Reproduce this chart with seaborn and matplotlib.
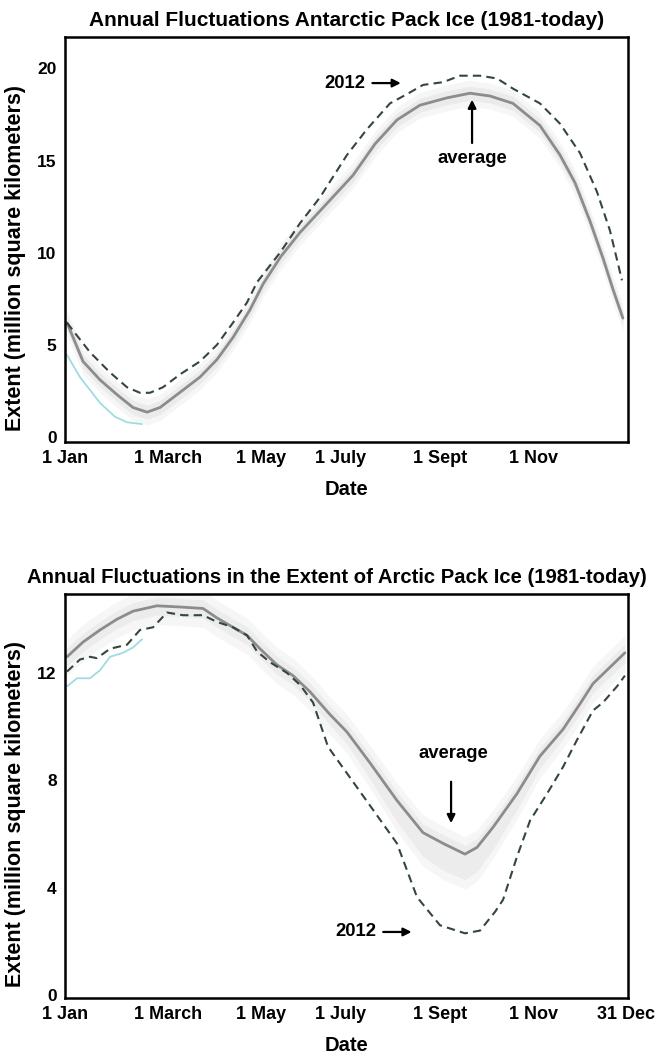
import numpy as np
import pandas as pd
import matplotlib
matplotlib.use("Agg")
import matplotlib.pyplot as plt
import seaborn as sns

# ---------------- data (day of year, million km^2) ----------------
ant_avg_day = [1.3, 11.7, 22.7, 33.7, 44.1, 53.2, 61.6, 72.6, 87.5, 98.5, 108.9, 119.9,
               128.4, 140.0, 152.4, 171.8, 186.7, 201.0, 215.2, 230.1, 247.7, 262.6, 275.5,
               290.4, 307.9, 320.9, 330.6, 340.4, 348.8, 355.3, 361.7]
ant_avg_val = [6.2, 4.1, 3.1, 2.3, 1.6, 1.35, 1.6, 2.3, 3.25, 4.2, 5.4, 6.9,
               8.3, 9.8, 11.1, 12.85, 14.2, 15.9, 17.2, 18.0, 18.4, 18.65, 18.5,
               18.1, 16.9, 15.3, 13.8, 11.7, 9.7, 8.0, 6.45]

ant_2012_day = [1.3, 7.8, 16.2, 29.2, 40.2, 48.6, 55.1, 63.5, 74.6, 87.5, 98.5, 108.9,
                118.0, 124.5, 139.4, 152.4, 165.3, 182.8, 195.8, 210.7, 221.7, 232.1,
                245.1, 256.1, 269.0, 280.1, 290.4, 307.9, 320.9, 333.9, 344.9, 353.3, 361.1]
ant_2012_val = [6.2, 5.5, 4.6, 3.5, 2.7, 2.4, 2.4, 2.7, 3.4, 4.1, 5.0, 6.2,
                7.3, 8.4, 10.0, 11.6, 13.0, 15.3, 16.7, 18.1, 18.6, 19.1,
                19.25, 19.6, 19.6, 19.45, 18.9, 18.1, 17.0, 15.4, 13.3, 11.2, 8.5]

ant_now_day = [1.3, 9.7, 22.7, 32.4, 40.2, 49.9]
ant_now_val = [4.45, 3.25, 1.85, 1.1, 0.8, 0.7]

arc_avg_day = [1.3, 11.7, 22.7, 33.7, 44.1, 59.6, 76.5, 89.5, 98.5, 108.9, 118.0, 126.4,
               137.4, 147.8, 158.8, 171.8, 182.8, 197.7, 215.2, 232.1, 245.1, 259.3,
               267.1, 277.5, 293.0, 307.9, 322.9, 333.9, 342.3, 363.0]
arc_avg_val = [12.6, 13.15, 13.6, 14.0, 14.3, 14.5, 14.45, 14.4, 14.05, 13.7, 13.4, 12.9,
               12.3, 11.9, 11.3, 10.45, 9.8, 8.65, 7.25, 6.05, 5.65, 5.25,
               5.5, 6.25, 7.5, 8.9, 9.9, 10.85, 11.6, 12.75]
arc_spread_low = [0.35, 0.35, 0.35, 0.35, 0.35, 0.35, 0.35, 0.35, 0.35, 0.35, 0.35, 0.35,
                  0.35, 0.35, 0.35, 0.4, 0.45, 0.6, 0.8, 0.9, 1.0, 0.95,
                  0.9, 0.8, 0.6, 0.45, 0.35, 0.35, 0.35, 0.35]

arc_2012_day = [1.3, 9.7, 16.2, 20.7, 29.2, 40.2, 48.6, 57.1, 66.1, 76.5, 89.5, 98.5,
                108.9, 118.0, 124.5, 132.9, 143.9, 152.4, 160.8, 170.5, 184.8, 199.7,
                215.2, 228.2, 243.1, 259.3, 269.0, 278.8, 284.0, 293.0, 301.5, 312.5,
                322.9, 331.9, 342.3, 348.8, 357.9, 363.0]
arc_2012_val = [12.05, 12.5, 12.6, 12.55, 12.9, 13.05, 13.6, 13.7, 14.25, 14.15, 14.15, 13.9,
                13.7, 13.4, 12.8, 12.4, 12.0, 11.55, 10.9, 9.25, 8.1, 6.9,
                5.65, 3.65, 2.6, 2.3, 2.4, 3.1, 3.55, 5.15, 6.5, 7.5,
                8.5, 9.5, 10.6, 10.9, 11.5, 11.9]

arc_now_day = [1.3, 7.8, 16.2, 22.7, 29.2, 37.6, 44.1, 49.9]
arc_now_val = [11.5, 11.8, 11.8, 12.1, 12.6, 12.75, 12.95, 13.25]

top_tick_days = [0, 67, 127, 178.5, 243, 304]
top_tick_labels = ["1 Jan", "1 March", "1 May", "1 July", "1 Sept", "1 Nov"]
bot_tick_days = [0, 67, 127, 178.5, 243, 304, 364]
bot_tick_labels = ["1 Jan", "1 March", "1 May", "1 July", "1 Sept", "1 Nov", "31 Dec"]
top_yticks = [0, 5, 10, 15, 20]
bot_yticks = [0, 4, 8, 12]

# ---------------- style ----------------
sns.set_theme(style="white")
plt.rcParams["font.family"] = ["Liberation Sans", "DejaVu Sans"]
plt.rcParams["font.weight"] = "bold"
plt.rcParams["text.color"] = "black"
plt.rcParams["axes.labelcolor"] = "black"
plt.rcParams["xtick.color"] = "black"
plt.rcParams["ytick.color"] = "black"

AVG_C = "#8c8c8c"
DASH_C = "#34473b"
NOW_C = "#9edbe3"

fig = plt.figure(figsize=(6.58, 10.58), dpi=100)
W, H = 658, 1058


def add_ax(left, top, right, bottom):
    return fig.add_axes([left / W, 1 - bottom / H, (right - left) / W, (bottom - top) / H])


ax1 = add_ax(65, 37, 628, 442)
ax2 = add_ax(65, 594, 628, 998)


def style_axes(ax, title, title_size, title_x, ticks, labels, yticks, ylim):
    ax.set_xlim(0, 365)
    ax.set_ylim(*ylim)
    ax.set_xticks(ticks)
    ax.set_xticklabels(labels, fontsize=13, fontweight="bold", color="black")
    ax.set_yticks(yticks)
    ax.set_yticklabels([str(v) for v in yticks], fontsize=12.5, fontweight="bold", color="black")
    ax.tick_params(axis="both", length=0, colors="black")
    ax.tick_params(axis="x", pad=6)
    ax.tick_params(axis="y", pad=6)
    for s in ax.spines.values():
        s.set_color("black")
        s.set_linewidth(1.8)
        s.set_visible(True)
    ax.set_title(title, fontsize=title_size, fontweight="bold", pad=8, x=title_x, color="black")
    ax.set_xlabel("Date", fontsize=14.5, fontweight="bold", color="black")
    ax.set_ylabel("Extent (million square kilometers)", fontsize=15.5, fontweight="bold",
                  color="black")
    ax.xaxis.set_label_coords(0.5, -0.095)
    ax.yaxis.set_label_coords(-0.07, 0.455)
    ax.set_facecolor("white")
    ax.grid(False)


# ---------------- Antarctic ----------------
a_avg = np.array(ant_avg_val)
ax1.fill_between(ant_avg_day, a_avg - 0.7, a_avg + 0.7, color="#f6f6f6", lw=0)
ax1.fill_between(ant_avg_day, a_avg - 0.38, a_avg + 0.38, color="#ebebeb", lw=0)
sns.lineplot(x=ant_now_day, y=ant_now_val, ax=ax1, color=NOW_C, lw=1.3)
sns.lineplot(x=ant_avg_day, y=ant_avg_val, ax=ax1, color=AVG_C, lw=2.0)
sns.lineplot(x=ant_2012_day, y=ant_2012_val, ax=ax1, color=DASH_C, lw=1.5,
             linestyle=(0, (4, 2.5)))
style_axes(ax1, "Annual Fluctuations Antarctic Pack Ice (1981-today)", 15, 0.5,
           top_tick_days, top_tick_labels, top_yticks, (-0.27, 21.7))

ax1.text(181.5, 19.2, "2012", fontsize=13.3, fontweight="bold", ha="center", va="center")
ax1.annotate("", xy=(219.5, 19.2), xytext=(197.5, 19.2),
             arrowprops=dict(arrowstyle="-|>", lw=1.6, color="black", mutation_scale=12))
ax1.text(263.9, 15.1, "average", fontsize=13.3, fontweight="bold", ha="center", va="center")
ax1.annotate("", xy=(263.9, 18.45), xytext=(263.9, 15.8),
             arrowprops=dict(arrowstyle="-|>", lw=1.6, color="black", mutation_scale=12))

# ---------------- Arctic ----------------
r_avg = np.array(arc_avg_val)
r_low = np.array(arc_spread_low)
ax2.fill_between(arc_avg_day, r_avg - r_low - 0.35, r_avg + 0.65, color="#f6f6f6", lw=0)
ax2.fill_between(arc_avg_day, r_avg - r_low, r_avg + 0.32, color="#ececec", lw=0)
sns.lineplot(x=arc_now_day, y=arc_now_val, ax=ax2, color=NOW_C, lw=1.3)
sns.lineplot(x=arc_avg_day, y=arc_avg_val, ax=ax2, color=AVG_C, lw=2.0)
sns.lineplot(x=arc_2012_day, y=arc_2012_val, ax=ax2, color=DASH_C, lw=1.5,
             linestyle=(0, (4, 2.5)))
style_axes(ax2, "Annual Fluctuations in the Extent of Arctic Pack Ice (1981-today)", 14.6, 0.483,
           bot_tick_days, bot_tick_labels, bot_yticks, (-0.11, 14.94))

ax2.text(251.5, 9.0, "average", fontsize=13.3, fontweight="bold", ha="center", va="center")
ax2.annotate("", xy=(250.3, 6.3), xytext=(250.3, 8.05),
             arrowprops=dict(arrowstyle="-|>", lw=1.6, color="black", mutation_scale=12))
ax2.text(188.7, 2.35, "2012", fontsize=13.3, fontweight="bold", ha="center", va="center")
ax2.annotate("", xy=(226.5, 2.35), xytext=(204.5, 2.35),
             arrowprops=dict(arrowstyle="-|>", lw=1.6, color="black", mutation_scale=12))

fig.savefig("out.png", dpi=100, facecolor="white")
